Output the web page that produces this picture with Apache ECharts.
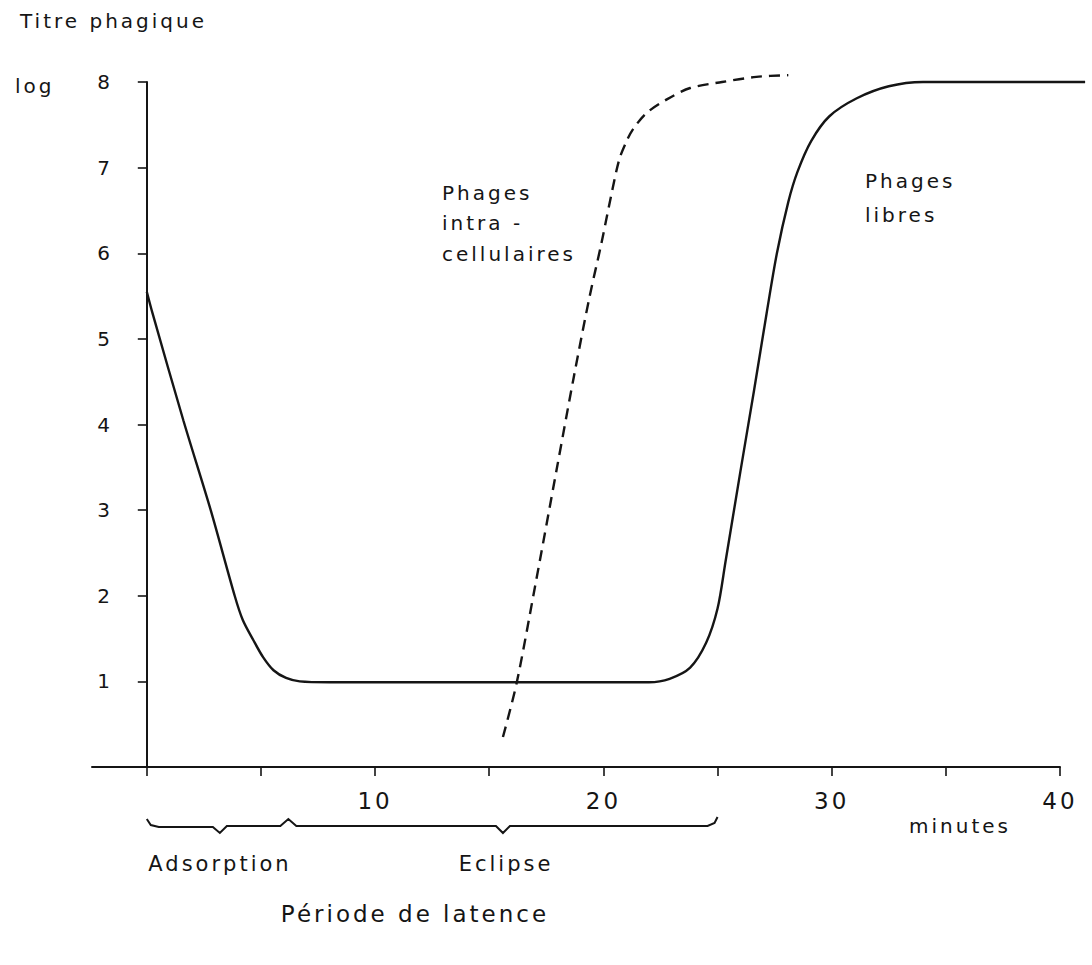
<!DOCTYPE html>
<html>
<head>
<meta charset="utf-8">
<script src="https://cdn.jsdelivr.net/npm/echarts@6/dist/echarts.min.js"></script>
<style>
  html, body { margin: 0; padding: 0; background: #fff; }
  #chart { width: 1092px; height: 965px; }
  /* the lettering of this figure is widely spaced */
  #chart text { letter-spacing: 3px; }
</style>
</head>
<body>
<div id="chart"></div>
<script>
// Free phages: adsorption drop, eclipse plateau, then burst (minutes, log titre)
const minutesLibres = [0, 0.25, 1.6, 2.8, 3.85, 4.2, 4.67, 5.1, 5.55, 6.1, 6.7, 8, 10, 12, 14, 16, 18, 20, 22,
  22.9, 23.8, 24.5, 25.0, 25.35, 26.0, 26.6, 27.15, 27.6, 28.1, 28.5, 29.1, 29.9, 31.1, 32.5, 34, 36, 38, 40, 41.1];
const titreLibres = [5.55, 5.3, 4.05, 3.0, 2.0, 1.72, 1.48, 1.28, 1.13, 1.04, 1.0, 0.99, 0.99, 0.99, 0.99, 0.99, 0.99, 0.99, 0.99,
  1.03, 1.16, 1.45, 1.85, 2.4, 3.45, 4.4, 5.3, 6.0, 6.6, 6.95, 7.31, 7.6, 7.81, 7.95, 8.0, 8.0, 8.0, 8.0, 8.0];

// Intracellular phages (dashed curve)
const minutesIntra = [15.6, 16.2, 17.0, 17.97, 18.7, 19.4, 19.9, 20.4, 20.7, 21.0, 21.3, 21.9, 22.8, 23.8, 25.2, 26.7, 28.1];
const titreIntra = [0.35, 0.98, 2.1, 3.5, 4.55, 5.5, 6.1, 6.75, 7.1, 7.3, 7.45, 7.64, 7.8, 7.93, 8.0, 8.06, 8.08];

// Axis ticks and labels
const xTicks = [0, 5, 10, 15, 20, 25, 30, 35, 40];
const xLabels = [10, 20, 30, 40];
const yTicks = [1, 2, 3, 4, 5, 6, 7, 8];

// Phases of the latent period (minutes): brace ends and the points inside it
const adsorptionRange = [0, 6.2];
const eclipseRange = [6.2, 25];
const braceDips = [3.2, 15.6];

const FONT = '"DejaVu Sans", sans-serif';
const INK = '#151515';

// Layout of the axes box; the curves sit in a second, larger box with the same scale
const W = 1092, H = 965;
const GRID = { left: 92, right: 32, top: 82, bottom: 198 };
const X_MIN = -2.4, X_MAX = 40, Y_MIN = 0, Y_MAX = 8;
const CURVE_RIGHT = 4, CURVE_TOP = 60;
const pxPerMin = (W - GRID.left - GRID.right) / (X_MAX - X_MIN);
const pxPerLog = (H - GRID.top - GRID.bottom) / (Y_MAX - Y_MIN);
const curveXMax = X_MIN + (W - GRID.left - CURVE_RIGHT) / pxPerMin;
const curveYMax = Y_MIN + (H - CURVE_TOP - GRID.bottom) / pxPerLog;

const zip = (xs, ys) => xs.map((x, i) => [x, ys[i]]);

const chart = echarts.init(document.getElementById('chart'), null, { renderer: 'svg' });

function textEl(id, text, x, y, size, align) {
  return {
    id: id, type: 'text', x: x, y: y, silent: true,
    style: { text: text, fill: INK, fontFamily: FONT, fontSize: size, align: align || 'left', verticalAlign: 'top' }
  };
}

chart.setOption({
  animation: false,
  backgroundColor: '#ffffff',
  grid: [
    Object.assign({}, GRID),
    { left: GRID.left, right: CURVE_RIGHT, top: CURVE_TOP, bottom: GRID.bottom }
  ],
  xAxis: [{
    gridIndex: 0, type: 'value', min: X_MIN, max: X_MAX,
    axisLine: { onZero: false, lineStyle: { color: INK, width: 2 } },
    axisTick: { customValues: xTicks, length: 9, lineStyle: { color: INK, width: 1.6 } },
    axisLabel: { customValues: xLabels, margin: 22, color: INK, fontFamily: FONT, fontSize: 23 },
    splitLine: { show: false }
  }, {
    gridIndex: 1, type: 'value', min: X_MIN, max: curveXMax, show: false
  }],
  yAxis: [{
    gridIndex: 0, type: 'value', min: Y_MIN, max: Y_MAX,
    axisLine: { show: true, onZero: true, lineStyle: { color: INK, width: 2 } },
    axisTick: { show: true, customValues: yTicks, length: 9, lineStyle: { color: INK, width: 1.6 } },
    axisLabel: { customValues: yTicks, margin: -13, align: 'center', color: INK, fontFamily: FONT, fontSize: 20 },
    splitLine: { show: false }
  }, {
    gridIndex: 1, type: 'value', min: Y_MIN, max: curveYMax, show: false
  }],
  series: [
    {
      name: 'Phages libres', type: 'line', xAxisIndex: 1, yAxisIndex: 1,
      data: zip(minutesLibres, titreLibres),
      showSymbol: false, smooth: 0.3, silent: true,
      lineStyle: { color: INK, width: 2.4 }
    },
    {
      name: 'Phages intracellulaires', type: 'line', xAxisIndex: 1, yAxisIndex: 1,
      data: zip(minutesIntra, titreIntra),
      showSymbol: false, smooth: 0.3, silent: true,
      lineStyle: { color: INK, width: 2.4, type: [11, 7] }
    }
  ],
  graphic: [
    textEl('t-titre', 'Titre phagique', 20, 11, 20),
    textEl('t-log', 'log', 15, 76, 20),
    textEl('t-intra1', 'Phages', 442, 183, 20),
    textEl('t-intra2', 'intra -', 442, 213, 20),
    textEl('t-intra3', 'cellulaires', 442, 244, 20),
    textEl('t-libres1', 'Phages', 865, 171, 20),
    textEl('t-libres2', 'libres', 865, 205, 20),
    textEl('t-minutes', 'minutes', 960, 816, 20, 'center'),
    textEl('t-ads', 'Adsorption', 220, 853, 21, 'center'),
    textEl('t-ecl', 'Eclipse', 506, 853, 21, 'center'),
    textEl('t-lat', 'Période de latence', 415, 902, 23, 'center')
  ]
});

// Brace under the axis spanning the latent period
const px = (m) => chart.convertToPixel({ gridIndex: 0 }, [m, 0]);
const x0 = px(adsorptionRange[0])[0];
const xMid = px(adsorptionRange[1])[0];
const xEnd = px(eclipseRange[1])[0];
const yBase = px(0)[1] + 60;
const d1 = px(braceDips[0])[0];
const d2 = px(braceDips[1])[0];

const bracePts = [
  [x0, yBase - 8], [x0 + 4, yBase - 2], [x0 + 12, yBase],
  [d1 - 7, yBase], [d1, yBase + 6], [d1 + 7, yBase - 1],
  [xMid - 8, yBase - 1], [xMid, yBase - 8], [xMid + 8, yBase - 1],
  [d2 - 7, yBase - 1], [d2, yBase + 6], [d2 + 7, yBase - 1],
  [xEnd - 10, yBase - 1], [xEnd - 3, yBase - 4], [xEnd, yBase - 10]
];

chart.setOption({
  graphic: [{
    id: 'brace', type: 'polyline', silent: true,
    shape: { points: bracePts },
    style: { stroke: INK, lineWidth: 2, fill: null }
  }]
});
</script>
</body>
</html>
